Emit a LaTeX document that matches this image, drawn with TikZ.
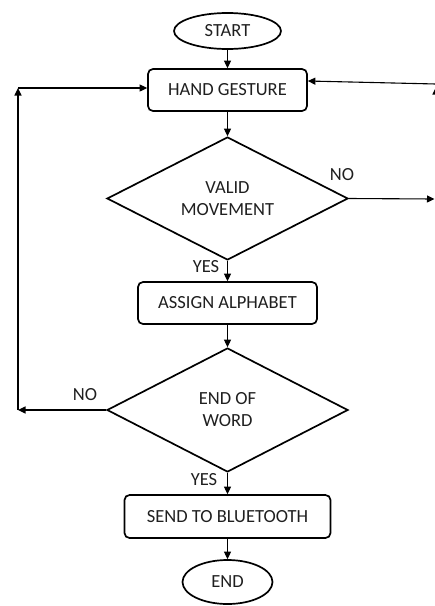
\documentclass[tikz,border=0pt]{standalone}
\usepackage{fontspec}
\setmainfont{Carlito}
\usetikzlibrary{shapes.geometric,arrows.meta,calc}
\begin{document}
\begin{tikzpicture}[x=1pt,y=-1pt,
 every node/.style={font=\fontsize{18.5}{22}\selectfont, text=black!88},
 term/.style={ellipse, draw, line width=1.7pt, inner sep=0pt},
 proc/.style={rectangle, rounded corners=5pt, draw, line width=1.7pt, inner sep=0pt},
 dec/.style={diamond, draw, line width=1.7pt, align=center, inner sep=0pt, aspect=2},
 conn/.style={line width=1.1pt, -{Triangle[length=7.5pt,width=7pt]}}]
\useasboundingbox (0,0) rectangle (435,606);
\clip (0,0) rectangle (435,606);
\node[term, minimum width=107pt, minimum height=36pt] (start) at (227.5,31) {START};
\node[proc, minimum width=159pt, minimum height=42pt] (hg) at (227.5,90) {HAND GESTURE};
\node[dec, minimum width=241pt, minimum height=123pt] (valid) at (227.5,198.5) {VALID\\MOVEMENT};
\node[proc, minimum width=179pt, minimum height=42pt] (assign) at (227.5,303) {ASSIGN ALPHABET};
\node[dec, minimum width=241pt, minimum height=124pt] (eow) at (227.5,410) {END OF\\WORD};
\node[proc, minimum width=206pt, minimum height=43pt] (send) at (227.5,516.5) {SEND TO BLUETOOTH};
\node[term, minimum width=90pt, minimum height=44pt] (end) at (227.5,582) {END};
\node (no1) at (342,175) {NO};
\node (yes1) at (206,267) {YES};
\node (no2) at (85,395) {NO};
\node (yes2) at (204,480) {YES};
\draw[conn] (start.south) -- (hg.north);
\draw[conn] (hg.south) -- (valid.north);
\draw[conn] (valid.south) -- (assign.north);
\draw[conn] (assign.south) -- (eow.north);
\draw[conn] (eow.south) -- (send.north);
\draw[conn] (send.south) -- (end.north);
\coordinate (r1) at (434.5,199);
\draw[conn] (valid.east) -- (r1);
\coordinate (r2) at (436,84);
\draw[conn] (r2) -- ([yshift=9pt]hg.east);
\coordinate (r3) at (436,140);
\coordinate (r3t) at (436,87);
\draw[conn] (r3) -- (r3t);
\coordinate (l1) at (18,410);
\coordinate (l2) at (18,88);
\draw[conn] (eow.west) -- (l1);
\draw[conn] (l1) -- (l2);
\draw[conn] (l2) -- (l2 -| hg.west);
\end{tikzpicture}
\end{document}
